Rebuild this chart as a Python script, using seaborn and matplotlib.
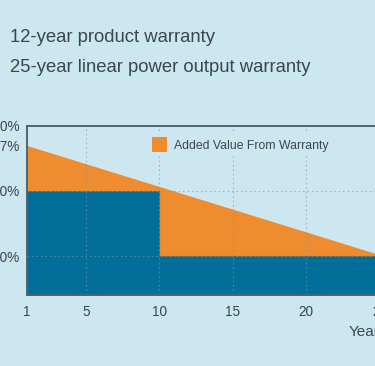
import numpy as np
import matplotlib
matplotlib.use("Agg")
import matplotlib.pyplot as plt
import seaborn as sns
from matplotlib.patches import Patch

# warranty data (percent of rated power)
guarantee_years = [1, 10, 10, 25]
linear_warranty = [97.0, 90.7, 90.7, 80.2]
standard_warranty = [90.0, 90.0, 80.0, 80.0]

x_ticks = [1, 5, 10, 15, 20, 25]
y_ticks = [80, 90, 97, 100]
y_labels = ["80%", "90%", "97%", "100%"]

title_lines = ["12-year product warranty", "25-year linear power output warranty"]
legend_label = "Added Value From Warranty"
x_label = "Year"

bg = "#cde7f0"
orange = "#ee8c2f"
blue = "#016f99"
text_col = "#3b464d"
frame_col = "#4f6573"

sns.set_theme(style="white", rc={"axes.facecolor": bg, "figure.facecolor": bg})
plt.rcParams["font.family"] = ["Liberation Sans", "DejaVu Sans"]

fig = plt.figure(figsize=(3.75, 3.66), dpi=100)
ax = fig.add_axes([27 / 375, 71 / 366, 360 / 375, 169 / 366])

ax.fill_between(guarantee_years, 70, standard_warranty, color=blue, lw=0, zorder=1)
ax.fill_between(guarantee_years, standard_warranty, linear_warranty, color=orange, lw=0, zorder=1)
sns.lineplot(x=guarantee_years, y=standard_warranty, ax=ax, color="#5e6a55", lw=0.8,
             sort=False, zorder=2, estimator=None)

ax.set_xlim(1, 25.5)
ax.set_ylim(74, 100)

for gx in x_ticks[1:]:
    ax.axvline(gx, color="#7f97a3", ls=(0, (1.5, 2.5)), lw=0.8, alpha=0.6, zorder=3)
for gy in [80, 90]:
    ax.axhline(gy, color="#7f97a3", ls=(0, (1.5, 2.5)), lw=0.8, alpha=0.6, zorder=3)

ax.set_xticks(x_ticks)
ax.set_xticklabels([str(t) for t in x_ticks])
ax.set_yticks(y_ticks)
ax.set_yticklabels(y_labels)
ax.tick_params(axis="both", length=0, labelsize=9.8, colors=text_col)
ax.tick_params(axis="x", pad=7)
ax.tick_params(axis="y", pad=5)

for side in ["top", "bottom", "left"]:
    ax.spines[side].set_color(frame_col)
    ax.spines[side].set_linewidth(1.4)
    ax.spines[side].set_zorder(5)
ax.spines["right"].set_visible(False)

ax.set_xlabel(x_label, fontsize=11, color=text_col, ha="left")
ax.xaxis.set_label_coords(322 / 360, -0.175)

leg = ax.legend(handles=[Patch(facecolor=orange, edgecolor="none", label=legend_label)],
                loc="upper left", bbox_to_anchor=(0.32, 0.99), frameon=True,
                fontsize=8.8, handlelength=1.2, handleheight=1.4, handletextpad=0.6,
                borderpad=0.3)
leg.get_frame().set_facecolor(bg)
leg.get_frame().set_edgecolor(bg)
leg.get_frame().set_alpha(1)
leg.set_zorder(6)
for t in leg.get_texts():
    t.set_color(text_col)

fig.text(10 / 375, 1 - 37 / 366, title_lines[0], fontsize=13.3, color=text_col, va="center")
fig.text(10 / 375, 1 - 67 / 366, title_lines[1], fontsize=13.3, color=text_col, va="center")

fig.savefig("out.png", dpi=100, facecolor=bg)
